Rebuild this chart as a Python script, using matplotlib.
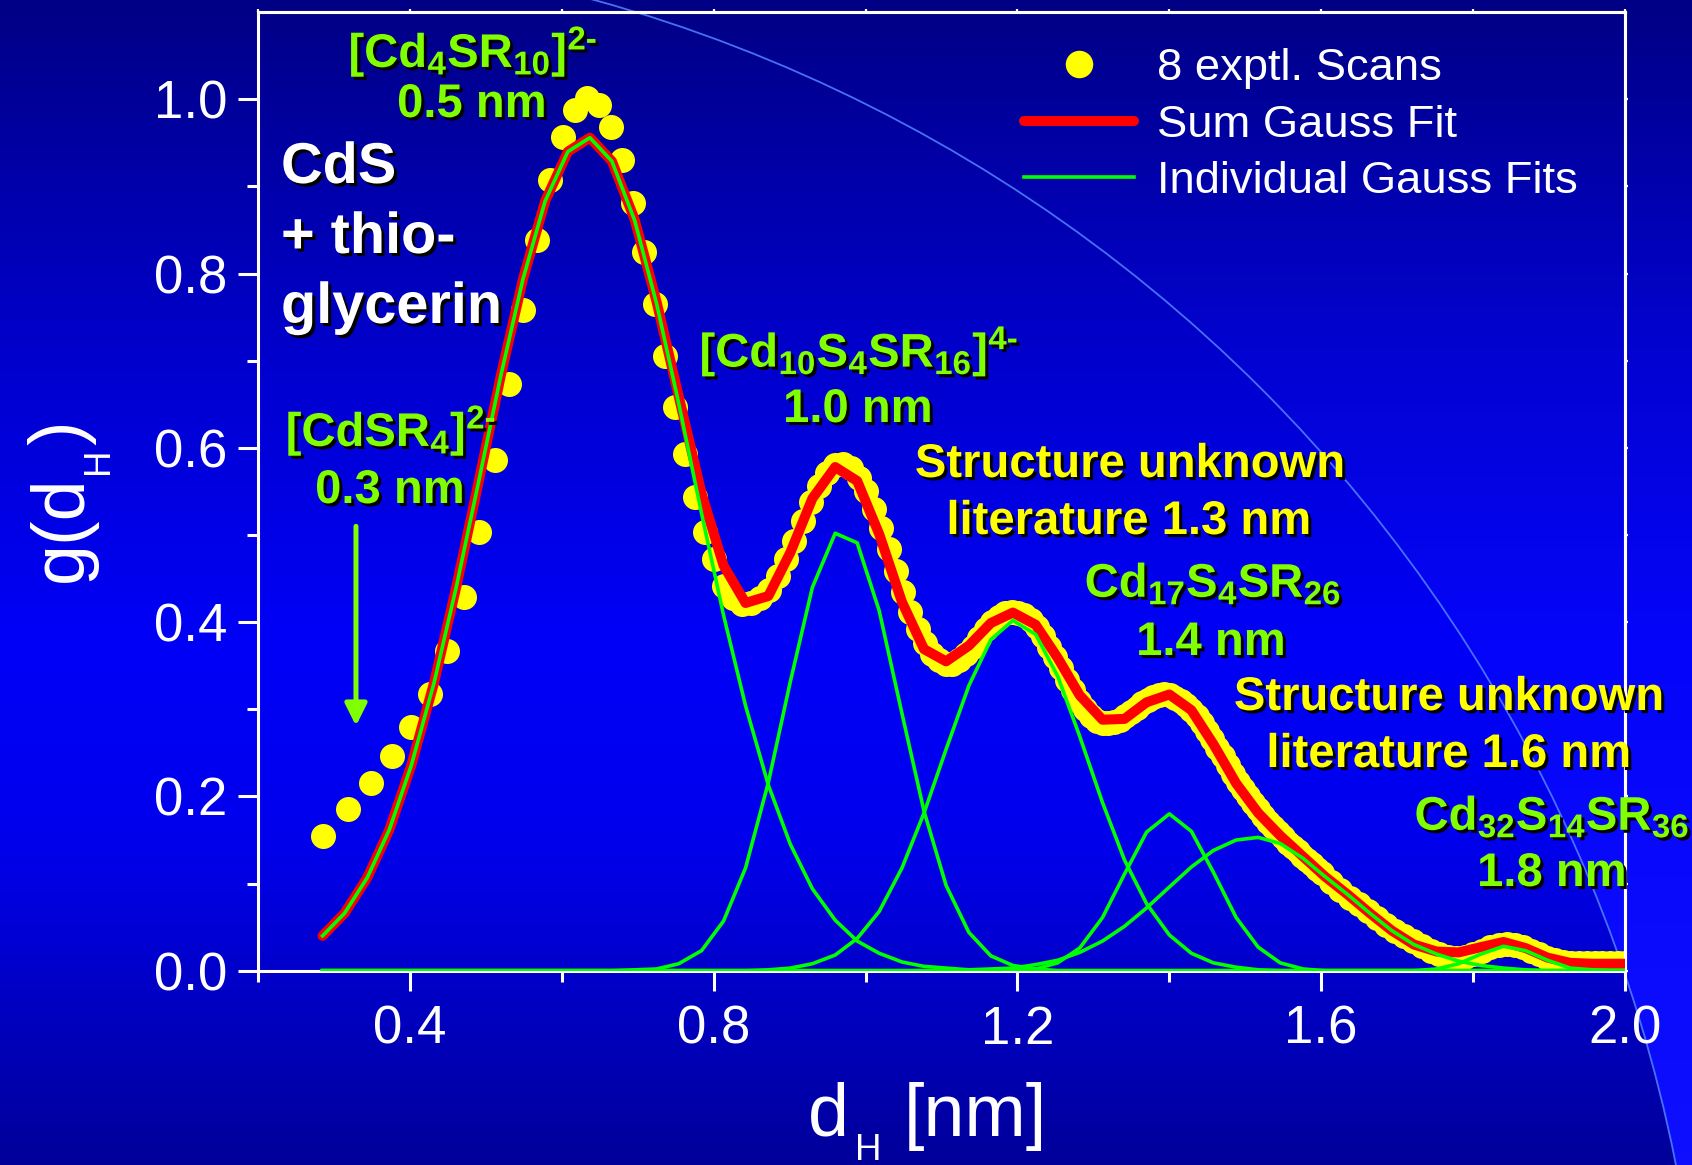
import numpy as np
import matplotlib
matplotlib.use("Agg")
import matplotlib.pyplot as plt
from matplotlib import patheffects as pe
from matplotlib.patches import Circle
from matplotlib.ticker import FixedLocator

plt.rcParams['font.family'] = ['Liberation Sans', 'DejaVu Sans']
plt.rcParams['mathtext.fontset'] = 'custom'
plt.rcParams['mathtext.rm'] = 'Liberation Sans'
plt.rcParams['mathtext.it'] = 'Liberation Sans:italic'
plt.rcParams['mathtext.bf'] = 'Liberation Sans:bold'
plt.rcParams['mathtext.default'] = 'regular'
plt.rcParams['mathtext.fallback'] = 'stixsans'

HY = '\u2010'  # typographic hyphen for the charge superscripts

# ---- experimental distribution (8 averaged scans) ----
scan_d = [
    0.2857, 0.3187, 0.3487, 0.3763, 0.4020, 0.4261, 0.4490, 0.4707, 0.4915, 0.5115,
    0.5307, 0.5492, 0.5671, 0.5845, 0.6013, 0.6177, 0.6337, 0.6493, 0.6645, 0.6794,
    0.6940, 0.7082, 0.7222, 0.7359, 0.7494, 0.7626, 0.7756, 0.7884, 0.8010, 0.8134,
    0.8256, 0.8376, 0.8495, 0.8612, 0.8727, 0.8841, 0.8953, 0.9064, 0.9174, 0.9282,
    0.9389, 0.9495, 0.9600, 0.9704, 0.9806, 0.9908, 1.0008, 1.0107, 1.0206, 1.0303,
    1.0400, 1.0496, 1.0591, 1.0685, 1.0778, 1.0870, 1.0962, 1.1053, 1.1143, 1.1232,
    1.1321, 1.1409, 1.1496, 1.1583, 1.1669, 1.1754, 1.1839, 1.1923, 1.2007, 1.2090,
    1.2172, 1.2254, 1.2335, 1.2416, 1.2496, 1.2576, 1.2655, 1.2734, 1.2812, 1.2890,
    1.2968, 1.3045, 1.3121, 1.3197, 1.3272, 1.3348, 1.3422, 1.3497, 1.3571, 1.3644,
    1.3717, 1.3790, 1.3862, 1.3934, 1.4006, 1.4077, 1.4148, 1.4218, 1.4288, 1.4358,
    1.4428, 1.4497, 1.4566, 1.4634, 1.4702, 1.4770, 1.4838, 1.4905, 1.4972, 1.5039,
    1.5105, 1.5171, 1.5237, 1.5302, 1.5368, 1.5433, 1.5497, 1.5562, 1.5626, 1.5689,
    1.5753, 1.5816, 1.5880, 1.5942, 1.6005, 1.6130, 1.6253, 1.6376, 1.6497, 1.6618,
    1.6738, 1.6857, 1.6975, 1.7093, 1.7209, 1.7325, 1.7440, 1.7554, 1.7668, 1.7781,
    1.7893, 1.8004, 1.8115, 1.8225, 1.8335, 1.8443, 1.8552, 1.8659, 1.8766, 1.8872,
    1.8978, 1.9083, 1.9187, 1.9291, 1.9395, 1.9498, 1.9600, 1.9702, 1.9803, 1.9904,
    2.0004,
]
scan_g = [
    0.155, 0.185, 0.215, 0.246, 0.280, 0.318, 0.367, 0.429, 0.503, 0.586,
    0.673, 0.758, 0.839, 0.907, 0.957, 0.988, 1.001, 0.993, 0.968, 0.930,
    0.881, 0.825, 0.765, 0.705, 0.647, 0.593, 0.544, 0.503, 0.472, 0.441,
    0.428, 0.421, 0.422, 0.428, 0.437, 0.453, 0.472, 0.493, 0.516, 0.538,
    0.556, 0.571, 0.580, 0.582, 0.577, 0.566, 0.550, 0.530, 0.508, 0.484,
    0.459, 0.435, 0.412, 0.392, 0.376, 0.364, 0.356, 0.352, 0.352, 0.356,
    0.363, 0.372, 0.382, 0.392, 0.400, 0.406, 0.410, 0.412, 0.411, 0.408,
    0.402, 0.394, 0.384, 0.372, 0.360, 0.347, 0.334, 0.322, 0.310, 0.300,
    0.292, 0.287, 0.284, 0.284, 0.285, 0.288, 0.292, 0.297, 0.302, 0.307,
    0.311, 0.314, 0.316, 0.317, 0.316, 0.313, 0.310, 0.305, 0.299, 0.292,
    0.284, 0.275, 0.266, 0.256, 0.246, 0.236, 0.226, 0.217, 0.208, 0.200,
    0.192, 0.185, 0.178, 0.171, 0.165, 0.159, 0.153, 0.147, 0.142, 0.137,
    0.132, 0.127, 0.122, 0.117, 0.112, 0.102, 0.093, 0.084, 0.076, 0.068,
    0.060, 0.053, 0.046, 0.040, 0.034, 0.028, 0.023, 0.019, 0.016, 0.015,
    0.016, 0.019, 0.023, 0.027, 0.030, 0.031, 0.030, 0.027, 0.023, 0.019,
    0.015, 0.012, 0.010, 0.009, 0.009, 0.009, 0.009, 0.009, 0.009, 0.009,
    0.009,
]

# ---- Gauss fit evaluated on the fit grid ----
fit_d = [
    0.285, 0.314, 0.344, 0.373, 0.402, 0.432, 0.461, 0.490, 0.520, 0.549,
    0.578, 0.608, 0.637, 0.666, 0.696, 0.725, 0.754, 0.784, 0.813, 0.842,
    0.872, 0.901, 0.930, 0.960, 0.989, 1.018, 1.048, 1.077, 1.106, 1.136,
    1.165, 1.194, 1.224, 1.253, 1.282, 1.312, 1.341, 1.370, 1.400, 1.429,
    1.458, 1.488, 1.517, 1.546, 1.576, 1.605, 1.634, 1.664, 1.693, 1.722,
    1.752, 1.781, 1.810, 1.840, 1.869, 1.898, 1.928, 1.957, 1.986, 2.015,
]
fit_sum = [
    0.040, 0.066, 0.107, 0.162, 0.236, 0.331, 0.440, 0.559, 0.684, 0.794,
    0.883, 0.940, 0.956, 0.929, 0.862, 0.767, 0.659, 0.548, 0.465, 0.422,
    0.430, 0.480, 0.542, 0.578, 0.562, 0.501, 0.423, 0.369, 0.355, 0.373,
    0.399, 0.411, 0.397, 0.359, 0.316, 0.288, 0.289, 0.308, 0.317, 0.299,
    0.260, 0.215, 0.181, 0.155, 0.131, 0.108, 0.088, 0.066, 0.046, 0.030,
    0.022, 0.021, 0.027, 0.033, 0.026, 0.015, 0.009, 0.008, 0.008, 0.008,
]
gauss_05nm = [
    0.040, 0.066, 0.107, 0.162, 0.236, 0.331, 0.440, 0.559, 0.684, 0.794,
    0.883, 0.940, 0.956, 0.929, 0.861, 0.765, 0.651, 0.525, 0.408, 0.304,
    0.213, 0.145, 0.094, 0.058, 0.034, 0.020, 0.010, 0.005, 0.003, 0.001,
    0, 0, 0, 0, 0, 0, 0, 0, 0, 0,
    0, 0, 0, 0, 0, 0, 0, 0, 0, 0,
    0, 0, 0, 0, 0, 0, 0, 0, 0, 0,
]
gauss_10nm = [
    0, 0, 0, 0, 0, 0, 0, 0, 0, 0,
    0, 0, 0, 0, 0.001, 0.002, 0.008, 0.023, 0.057, 0.118,
    0.216, 0.332, 0.440, 0.502, 0.491, 0.413, 0.295, 0.183, 0.098, 0.044,
    0.017, 0.006, 0.002, 0, 0, 0, 0, 0, 0, 0,
    0, 0, 0, 0, 0, 0, 0, 0, 0, 0,
    0, 0, 0, 0, 0, 0, 0, 0, 0, 0,
]
gauss_13nm = [
    0, 0, 0, 0, 0, 0, 0, 0, 0, 0,
    0, 0, 0, 0, 0, 0, 0, 0, 0, 0,
    0.001, 0.003, 0.008, 0.018, 0.037, 0.068, 0.118, 0.181, 0.254, 0.327,
    0.380, 0.402, 0.386, 0.338, 0.269, 0.193, 0.127, 0.077, 0.041, 0.020,
    0.009, 0.004, 0.001, 0, 0, 0, 0, 0, 0, 0,
    0, 0, 0, 0, 0, 0, 0, 0, 0, 0,
]
gauss_14nm = [
    0, 0, 0, 0, 0, 0, 0, 0, 0, 0,
    0, 0, 0, 0, 0, 0, 0, 0, 0, 0,
    0, 0, 0, 0, 0, 0, 0, 0, 0, 0,
    0, 0, 0.002, 0.009, 0.026, 0.061, 0.111, 0.159, 0.180, 0.160,
    0.113, 0.061, 0.027, 0.009, 0.002, 0, 0, 0, 0, 0,
    0, 0, 0, 0, 0, 0, 0, 0, 0, 0,
]
gauss_16nm = [
    0, 0, 0, 0, 0, 0, 0, 0, 0, 0,
    0, 0, 0, 0, 0, 0, 0, 0, 0, 0,
    0, 0, 0, 0, 0, 0, 0, 0, 0, 0.001,
    0.002, 0.003, 0.007, 0.012, 0.021, 0.034, 0.051, 0.072, 0.096, 0.119,
    0.138, 0.150, 0.153, 0.146, 0.129, 0.108, 0.088, 0.066, 0.046, 0.030,
    0.019, 0.011, 0.006, 0.003, 0.001, 0, 0, 0, 0, 0,
]
gauss_18nm = [
    0, 0, 0, 0, 0, 0, 0, 0, 0, 0,
    0, 0, 0, 0, 0, 0, 0, 0, 0, 0,
    0, 0, 0, 0, 0, 0, 0, 0, 0, 0,
    0, 0, 0, 0, 0, 0, 0, 0, 0, 0,
    0, 0, 0, 0, 0, 0, 0, 0, 0, 0,
    0.002, 0.008, 0.019, 0.028, 0.023, 0.012, 0.003, 0.001, 0, 0,
]
components = [gauss_05nm, gauss_10nm, gauss_13nm, gauss_14nm, gauss_16nm, gauss_18nm]

x_major = [0.4, 0.8, 1.2, 1.6, 2.0]
x_minor = [0.2, 0.6, 1.0, 1.4, 1.8]
y_major = [0.0, 0.2, 0.4, 0.6, 0.8, 1.0]
y_minor = [0.1, 0.3, 0.5, 0.7, 0.9]

legend_labels = ["8 exptl. Scans", "Sum Gauss Fit", "Individual Gauss Fits"]

YELLOW = '#ffff00'
RED = '#ff0000'
GREEN = '#00ff00'
LABEL_GREEN = '#80ff00'

W, H = 1692, 1165
fig = plt.figure(figsize=(W / 100, H / 100), dpi=100)


def fpos(px, py):
    """pixel position (from top-left) -> figure fraction"""
    return px / W, 1 - py / H


# ---- slide background: blue gradient with a large arc ----
bg = fig.add_axes([0, 0, 1, 1], zorder=-10)
yy, xx = np.mgrid[0:H, 0:W]
t = yy / (H - 1)
blue_in = np.interp(t, [0.0, 0.30, 0.55, 0.72, 1.0], [0.52, 0.80, 0.97, 0.93, 0.60])
blue_out = np.interp(t, [0.0, 0.30, 0.55, 1.0], [0.52, 0.82, 0.98, 1.0])
rg_out = np.interp(t, [0.0, 0.6, 1.0], [0.0, 0.02, 0.06])
outside = (xx - 190.0) ** 2 + (yy - 1460.0) ** 2 > 1515.0 ** 2
img = np.zeros((H, W, 3))
img[..., 2] = np.where(outside, blue_out, blue_in)
img[..., 0] = np.where(outside, rg_out, 0.0)
img[..., 1] = np.where(outside, rg_out, 0.0)
bg.imshow(img, extent=(0, W, H, 0), aspect='auto', interpolation='bilinear')
bg.add_patch(Circle((190, 1460), 1515, fill=False, ec='#4f7dff', lw=1.3, alpha=0.9))
bg.set_xlim(0, W)
bg.set_ylim(H, 0)
bg.axis('off')

# ---- main plot ----
ax_l, ax_t, ax_r, ax_b = 258, 12.2, 1625, 970.7
ax = fig.add_axes([ax_l / W, 1 - ax_b / H, (ax_r - ax_l) / W, (ax_b - ax_t) / H])
ax.set_facecolor('none')

scan_line, = ax.plot(scan_d, scan_g, ls='none', marker='o', ms=18,
                     mfc=YELLOW, mec=YELLOW, mew=0, zorder=2)
sum_line, = ax.plot(fit_d, fit_sum, color=RED, lw=7.2, solid_capstyle='round',
                    solid_joinstyle='round', zorder=3)
comp_lines = []
for comp in components:
    ln, = ax.plot(fit_d, comp, color=GREEN, lw=2.6, solid_joinstyle='round', zorder=4)
    comp_lines.append(ln)

ax.set_xlim(0.2, 2.0)
ax.set_ylim(0.0, 1.1)

ax.xaxis.set_major_locator(FixedLocator(x_major))
ax.xaxis.set_minor_locator(FixedLocator(x_minor))
ax.yaxis.set_major_locator(FixedLocator(y_major))
ax.yaxis.set_minor_locator(FixedLocator(y_minor))
ax.set_xticklabels([f"{v:.1f}" for v in x_major])
ax.set_yticklabels([f"{v:.1f}" for v in y_major])

for side in ['left', 'bottom', 'top', 'right']:
    ax.spines[side].set_color('white')
    ax.spines[side].set_linewidth(2.2)

ax.tick_params(which='major', direction='out', length=14.4, width=2.2, color='white',
               labelcolor='white', labelsize=38)
ax.tick_params(which='minor', direction='out', length=8, width=2.2, color='white')
ax.tick_params(axis='x', which='major', pad=10)
ax.tick_params(axis='y', which='major', pad=8)

# small ticks on top and right frame
sx = ax.secondary_xaxis('top')
sx.xaxis.set_major_locator(FixedLocator(x_major + x_minor))
sx.tick_params(direction='out', length=2.5, width=1.6, color='white', labeltop=False)
sx.spines['top'].set_color('white')
sx.spines['top'].set_linewidth(2.2)
sy = ax.secondary_yaxis('right')
sy.yaxis.set_major_locator(FixedLocator(y_major + y_minor))
sy.tick_params(direction='out', length=2.5, width=1.6, color='white', labelright=False)
sy.spines['right'].set_color('white')
sy.spines['right'].set_linewidth(2.2)

# axis titles (deep subscript H placed as its own text)
title_kw = dict(color='white', va='baseline', ha='left', rotation_mode='anchor')
fig.text(*fpos(808, 1136), 'd', fontsize=53, **title_kw)
fig.text(*fpos(855, 1160), 'H', fontsize=26.5, **title_kw)
fig.text(*fpos(904, 1136), '[nm]', fontsize=53, **title_kw)

fig.text(*fpos(82, 582), 'g(d', fontsize=53, rotation=90, **title_kw)
fig.text(*fpos(108, 474), 'H', fontsize=26.5, rotation=90, **title_kw)
fig.text(*fpos(82, 445), ')', fontsize=53, rotation=90, **title_kw)

# legend
leg = ax.legend([scan_line, sum_line, comp_lines[0]], legend_labels,
                loc='upper left', bbox_to_anchor=fpos(1024, 48),
                bbox_transform=fig.transFigure, frameon=False, fontsize=32.7,
                handlelength=2.43, handletextpad=0.49, labelspacing=0.345,
                borderpad=0, borderaxespad=0, numpoints=1, markerscale=1.1)
for txt in leg.get_texts():
    txt.set_color('white')

# ---- annotations ----
shadow = [pe.withSimplePatchShadow(offset=(2.2, -2.2), shadow_rgbFace='black', alpha=1.0)]


def label(px, py, s, color, size=34, ha='center'):
    fig.text(*fpos(px, py), s, fontsize=size, fontweight='bold', color=color,
             ha=ha, va='baseline', path_effects=shadow)


label(473, 67, '[Cd$_4$SR$_{10}$]$^{2' + HY + '}$', LABEL_GREEN)
label(472, 117, '0.5 nm', LABEL_GREEN)

label(281, 183, 'CdS', 'white', size=41.5, ha='left')
label(281, 253, '+ thio-', 'white', size=41.5, ha='left')
label(281, 323, 'glycerin', 'white', size=41.5, ha='left')

label(391, 446, '[CdSR$_4$]$^{2' + HY + '}$', LABEL_GREEN)
label(390, 503, '0.3 nm', LABEL_GREEN)
ax.annotate('', xy=(0.329, 0.281), xytext=(0.329, 0.510), xycoords='data',
            arrowprops=dict(arrowstyle='-|>,head_length=1.1,head_width=0.55',
                            color=LABEL_GREEN, lw=3.6, shrinkA=0, shrinkB=0,
                            mutation_scale=12))

label(859, 367, '[Cd$_{10}$S$_4$SR$_{16}$]$^{4' + HY + '}$', LABEL_GREEN)
label(858, 422, '1.0 nm', LABEL_GREEN)

label(1130, 477, 'Structure unknown', YELLOW)
label(1129, 534, 'literature 1.3 nm', YELLOW)

label(1213, 597, 'Cd$_{17}$S$_4$SR$_{26}$', LABEL_GREEN)
label(1211, 655, '1.4 nm', LABEL_GREEN)

label(1449, 710, 'Structure unknown', YELLOW)
label(1449, 767, 'literature 1.6 nm', YELLOW)

label(1552, 830, 'Cd$_{32}$S$_{14}$SR$_{36}$', LABEL_GREEN)
label(1552, 886, '1.8 nm', LABEL_GREEN)

fig.savefig('out.png', dpi=100)
